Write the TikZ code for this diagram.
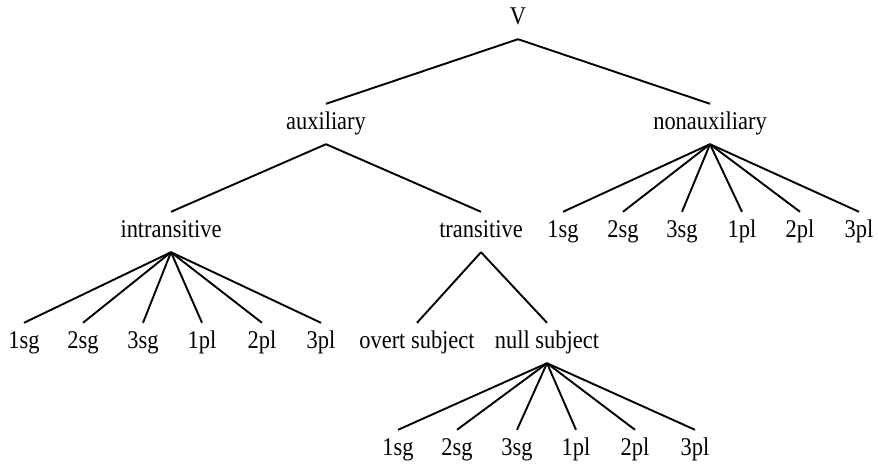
\documentclass[tikz,border=0pt]{standalone}
\usepackage{fontspec}
\setmainfont[FakeStretch=0.88]{Liberation Serif}
\usetikzlibrary{positioning}

\tikzset{
	cat/.style={anchor=base, font=\fontsize{25.5}{29}\selectfont,
		text height=18pt, text depth=8pt, inner xsep=2pt, inner ysep=7pt},
	branch/.style={line width=1.9pt}
}

\begin{document}
\begin{tikzpicture}[x=1pt,y=-1pt]
	\useasboundingbox (0,0) rectangle (878,466);
	\node[cat] (V) at (518,24) {V};
	\node[cat] (aux) at (326,129) {auxiliary};
	\node[cat] (nonaux) at (710,129) {nonauxiliary};
	\node[cat] (intr) at (171,237) {intransitive};
	\node[cat] (tr) at (481,237) {transitive};
	\node[cat] (overt) at (417,348) {overt subject};
	\node[cat] (null) at (547,348) {null subject};
	\draw[branch] (V.south) -- (aux.north);
	\draw[branch] (V.south) -- (nonaux.north);
	\draw[branch] (aux.south) -- (intr.north);
	\draw[branch] (aux.south) -- (tr.north);
	\draw[branch] (tr.south) -- (overt.north);
	\draw[branch] (tr.south) -- (null.north);
	% person/number leaves
	\foreach \x/\t [count=\i] in {24/1sg,83/2sg,143/3sg,202/1pl,262/2pl,321/3pl} {
		\node[cat] (intr\i) at (\x,348) {\t};
		\draw[branch] (intr.south) -- (intr\i.north);
	}
	\foreach \x/\t [count=\i] in {563/1sg,623/2sg,682/3sg,742/1pl,800/2pl,859/3pl} {
		\node[cat] (nonaux\i) at (\x,237) {\t};
		\draw[branch] (nonaux.south) -- (nonaux\i.north);
	}
	\foreach \x/\t [count=\i] in {398/1sg,457/2sg,517/3sg,576/1pl,635/2pl,695/3pl} {
		\node[cat] (null\i) at (\x,455) {\t};
		\draw[branch] (null.south) -- (null\i.north);
	}
\end{tikzpicture}
\end{document}
